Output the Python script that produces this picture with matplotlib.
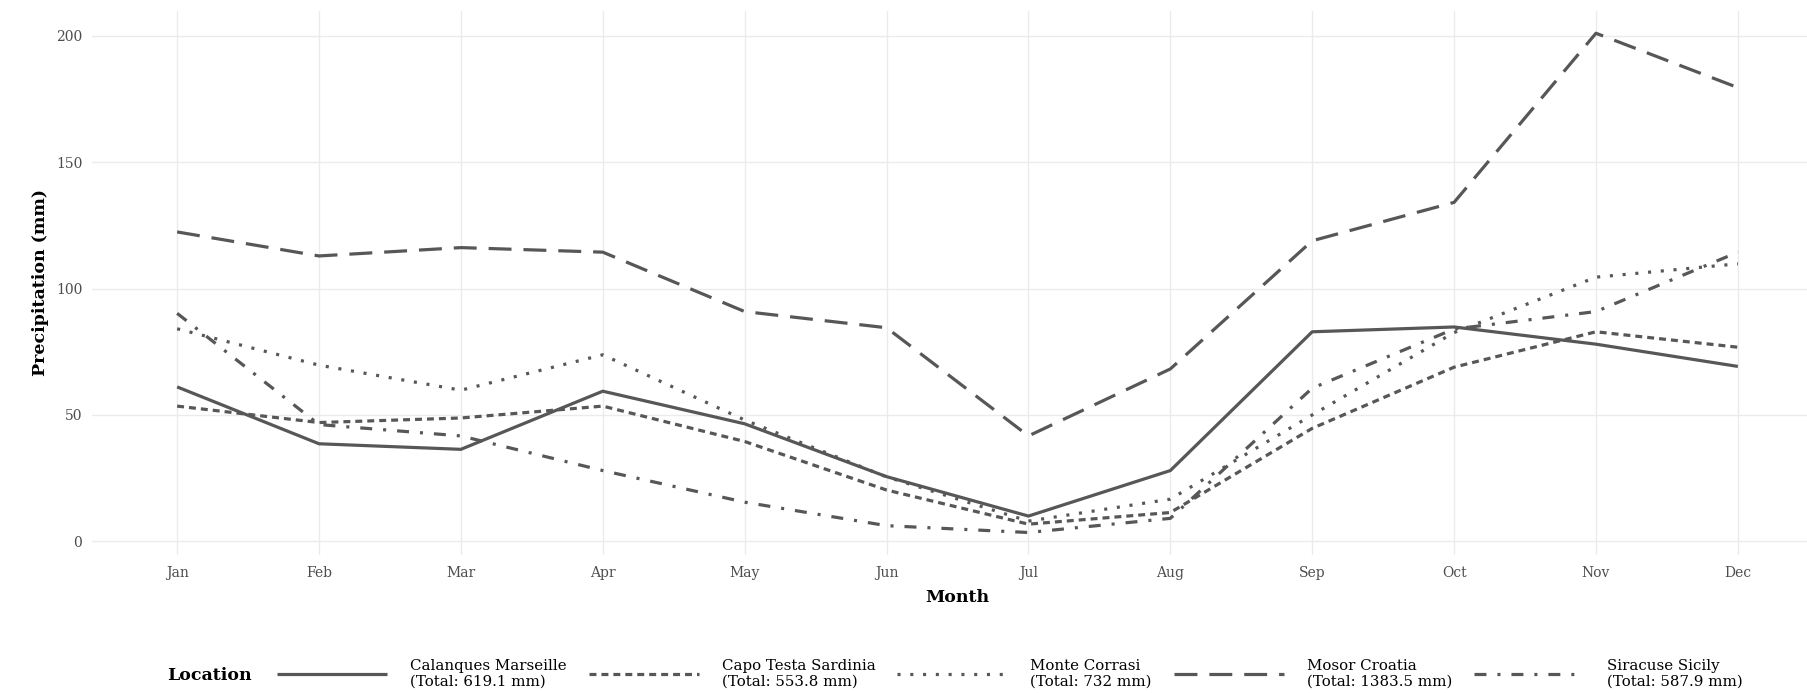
import numpy as np
import matplotlib
matplotlib.use("Agg")
import matplotlib.pyplot as plt

# monthly precipitation (mm)
months = ['Jan', 'Feb', 'Mar', 'Apr', 'May', 'Jun', 'Jul', 'Aug', 'Sep', 'Oct', 'Nov', 'Dec']
calanques = [61.1, 38.6, 36.4, 59.4, 46.5, 25.6, 10.0, 28.0, 82.9, 84.8, 78.0, 69.2]
capo_testa = [53.5, 47.0, 48.8, 53.5, 39.5, 20.3, 6.8, 11.4, 44.7, 68.9, 82.9, 76.8]
monte_corrasi = [84.1, 69.7, 59.8, 73.8, 48.0, 25.5, 8.0, 16.7, 50.0, 82.6, 104.5, 109.8]
mosor = [122.4, 112.9, 116.2, 114.4, 90.9, 84.5, 41.7, 68.2, 118.9, 134.1, 201.0, 179.5]
siracuse = [90.2, 46.2, 41.7, 28.0, 15.5, 6.2, 3.5, 9.1, 60.6, 84.0, 90.9, 114.4]

locations = ['Calanques Marseille', 'Capo Testa Sardinia', 'Monte Corrasi',
             'Mosor Croatia', 'Siracuse Sicily']
totals = [619.1, 553.8, 732, 1383.5, 587.9]
series = [calanques, capo_testa, monte_corrasi, mosor, siracuse]

# line types (in points, not scaled by width)
styles = ['-', (0, (5.0, 3.6)), (0, (2.2, 7.0)), (0, (16.5, 8.6)), (0, (8.6, 7.9, 2.2, 7.9))]

plt.rcParams['font.family'] = ['DejaVu Serif']
plt.rcParams['lines.scale_dashes'] = False

W, H = 1808, 693
fig = plt.figure(figsize=(W / 100, H / 100), dpi=100)
# panel runs a little past the right edge, like the original
ax = fig.add_axes([92 / W, (H - 555) / H, (1823 - 92) / W, (555 - 11) / H])

line_col = '#575757'
handles = []
for name, tot, vals, ls in zip(locations, totals, series, styles):
    h, = ax.plot(months, vals, color=line_col, lw=2.3, linestyle=ls,
                 solid_capstyle='butt', dash_capstyle='butt',
                 label='%s\n(Total: %g mm)' % (name, tot))
    handles.append(h)

ax.set_xlim(-0.6, 11.6)
ax.set_ylim(-5.4, 209.8)
ax.set_yticks([0, 50, 100, 150, 200])

# theme_minimal look
for s in ax.spines.values():
    s.set_visible(False)
ax.grid(True, color='#EBEBEB', lw=1.0)
ax.set_axisbelow(True)
ax.tick_params(length=0, labelsize=10, labelcolor='#4D4D4D')
ax.tick_params(axis='y', pad=7)
ax.tick_params(axis='x', pad=8)

ax.set_xlabel('Month', fontsize=12.5, fontweight='bold')
ax.xaxis.label.set_va('center')
ax.xaxis.set_label_coords(0.5, -0.078)
ax.set_ylabel('Precipitation (mm)', fontsize=12.5, fontweight='bold')
ax.yaxis.label.set_va('center')
ax.yaxis.set_label_coords(-0.030, 0.5)

# legend along the bottom, title on the left
fs = 10.8
fpx = fs * 100 / 72
leg = fig.legend(handles=handles, loc='center left', ncol=5,
                 bbox_to_anchor=(277 / W, 1 - 674 / H), borderaxespad=0, borderpad=0,
                 frameon=False, fontsize=fs, handlelength=110 / fpx,
                 handletextpad=23 / fpx, columnspacing=22 / fpx)
for t in leg.get_texts():
    t.set_linespacing(1.1)
fig.text(167 / W, 1 - 675 / H, 'Location', fontsize=12.5, fontweight='bold',
         ha='left', va='center')

plt.savefig('out.png', dpi=100)
